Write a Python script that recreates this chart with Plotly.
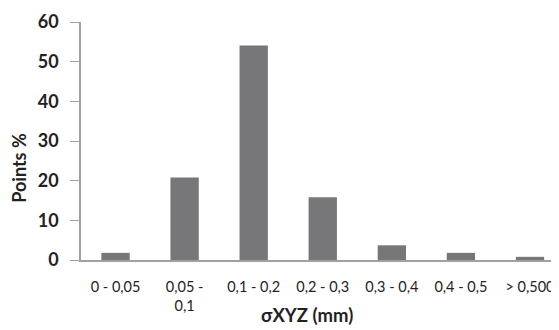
import plotly.graph_objects as go

categories = ["0 - 0,05", "0,05 -<br>0,1", "0,1 - 0,2", "0,2 - 0,3", "0,3 - 0,4", "0,4 - 0,5", "> 0,500"]
values = [1.8, 20.8, 54.1, 15.8, 3.7, 1.8, 0.8]
y_ticks = [0, 10, 20, 30, 40, 50, 60]

FONT = "Lato"
TXT = "#222222"
AX = "#a0a0a0"

fig = go.Figure(go.Bar(x=categories, y=values, marker=dict(color="#77777a", line=dict(width=0))))

fig.update_layout(
    width=551, height=322,
    margin=dict(l=73, r=0, t=14, b=70),
    paper_bgcolor="white", plot_bgcolor="white",
    bargap=0.59,
    showlegend=False,
    font=dict(family=FONT, color=TXT),
    annotations=[
        dict(text="<b>σXYZ (mm)</b>", xref="paper", yref="paper",
             x=0.473, y=-0.232, xanchor="center", yanchor="middle",
             showarrow=False, font=dict(size=18.5, family=FONT, color=TXT)),
        dict(text="<b>Points %</b>", xref="paper", yref="paper",
             x=-0.13, y=0.387, xanchor="center", yanchor="middle", textangle=-90,
             showarrow=False, font=dict(size=18, family=FONT, color=TXT)),
    ],
)
fig.update_xaxes(
    range=[-0.5, 6.42],
    showline=True, linecolor=AX, linewidth=1.5,
    ticks="", showgrid=False,
    ticklabelstandoff=13,
    tickfont=dict(size=14.5, family=FONT, color=TXT),
)
fig.update_yaxes(
    range=[0, 60], tickvals=y_ticks,
    showline=True, linecolor=AX, linewidth=1.5,
    ticks="outside", ticklen=9, tickcolor=AX,
    ticklabelstandoff=8,
    showgrid=False, zeroline=False,
    tickfont=dict(size=18, family=FONT, color=TXT, weight="bold"),
)

fig.write_html("out.html")
